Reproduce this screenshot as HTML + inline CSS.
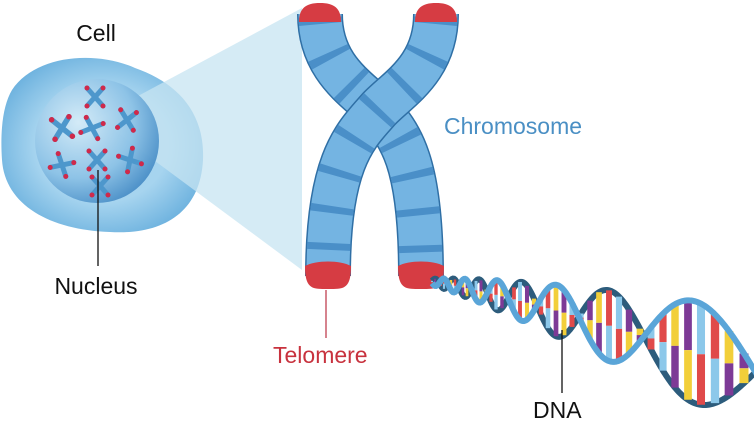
<!DOCTYPE html>
<html><head><meta charset="utf-8"><style>
html,body{margin:0;padding:0;background:#fff;overflow:hidden;}
svg{display:block;}
text{font-family:"Liberation Sans",sans-serif;}
</style></head><body>
<svg id="s" width="754" height="429" viewBox="0 0 754 429" xmlns="http://www.w3.org/2000/svg">
<defs>
<radialGradient id="cellg" cx="0.5" cy="0.5" r="0.55">
<stop offset="0.6" stop-color="#a6d4ef"/><stop offset="1" stop-color="#6fb3df"/></radialGradient>
<radialGradient id="nucg" cx="0.35" cy="0.35" r="0.75">
<stop offset="0" stop-color="#d6ecf8"/><stop offset="0.6" stop-color="#8cc2e6"/><stop offset="1" stop-color="#3f86c2"/></radialGradient>
<g id="mx">
<path d="M-9,-8 Q0,0 9,8 M9,-8 Q0,0 -9,8" stroke="#4d97cc" stroke-width="5" fill="none" stroke-linecap="round"/>
<circle cx="-9" cy="-8" r="2.5" fill="#d0294a"/><circle cx="9" cy="-8" r="2.5" fill="#d0294a"/>
<circle cx="-9" cy="8" r="2.5" fill="#d0294a"/><circle cx="9" cy="8" r="2.5" fill="#d0294a"/>
</g>
</defs>
<path d="M12,90 C35,55 95,50 135,68 C175,82 205,110 203,160 C200,215 160,235 110,232 C50,230 5,205 2,160 C0,130 3,105 12,90Z" fill="url(#cellg)"/>
<polygon points="97,118 302,8 302,270" fill="#c7e4f2" opacity="0.75"/>
<circle cx="97" cy="141" r="62" fill="url(#nucg)" opacity="0.95"/>
<use href="#mx" transform="translate(95,97) rotate(90)"/>
<use href="#mx" transform="translate(62,128) rotate(80) scale(1.1)"/>
<use href="#mx" transform="translate(92,128) rotate(20)"/>
<use href="#mx" transform="translate(127,120) rotate(100)"/>
<use href="#mx" transform="translate(62,165) rotate(30)"/>
<use href="#mx" transform="translate(97,160) rotate(90)"/>
<use href="#mx" transform="translate(130,160) rotate(60)"/>
<use href="#mx" transform="translate(100,186) rotate(90)"/>
<line x1="98" y1="170" x2="98" y2="266" stroke="#111" stroke-width="1.3"/>
<g fill="none" stroke-linecap="butt">
<path d="M320,14 C320,70 360,90 378,110 C400,135 421,160 421,276" stroke="#2f6fa5" stroke-width="46"/>
<path d="M320,14 C320,70 360,90 378,110 C400,135 421,160 421,276" stroke="#74b4e2" stroke-width="43"/>
<path d="M320,14 C320,70 360,90 378,110 C400,135 421,160 421,276" stroke="#4a8fc8" stroke-width="43" stroke-dasharray="7 30" stroke-dashoffset="-40"/>
<path d="M436,14 C436,70 396,90 378,110 C356,135 328,160 328,276" stroke="#2f6fa5" stroke-width="46"/>
<path d="M436,14 C436,70 396,90 378,110 C356,135 328,160 328,276" stroke="#74b4e2" stroke-width="43"/>
<path d="M436,14 C436,70 396,90 378,110 C356,135 328,160 328,276" stroke="#4a8fc8" stroke-width="43" stroke-dasharray="7 30" stroke-dashoffset="-40"/>
</g>
<path d="M299,22 C299,8 306,3 320,3 C334,3 341,8 341,22 Z" fill="#d63c43"/>
<path d="M415,22 C415,8 422,3 436,3 C450,3 457,8 457,22 Z" fill="#d63c43"/>
<path d="M305,266 C305,290 313,289 328,289 C343,289 351,290 351,266 C340,260 316,260 305,266Z" fill="#d63c43"/>
<path d="M398,266 C398,290 406,289 421,289 C436,289 444,290 444,266 C433,260 409,260 398,266Z" fill="#d63c43"/>
<line x1="326" y1="290" x2="326" y2="338" stroke="#c04050" stroke-width="1.3"/>
<g id="dna"></g>
<line x1="562" y1="330" x2="562" y2="393" stroke="#111" stroke-width="1.3"/>
<text x="96" y="41" font-size="23" text-anchor="middle" fill="#111">Cell</text>
<text x="96" y="294" font-size="23" text-anchor="middle" fill="#111">Nucleus</text>
<text x="444" y="134" font-size="23" fill="#4a8fc4">Chromosome</text>
<text x="273" y="363" font-size="23" fill="#c8323e">Telomere</text>
<text x="533" y="418" font-size="23" fill="#111">DNA</text>
</svg>
<script>
(function(){
var g=document.getElementById('dna');
var pts=[],phi=0,x0=432,x1=770;
for(var x=x0;x<=x1;x+=1){var t=(x-x0)/(x1-x0);
var lam=16+300*Math.pow(t,1.5);phi+=2*Math.PI/lam;
var cy=282+95*Math.pow(t,1.2);var A=3+62*t;
pts.push([x,cy,A,phi]);}
var cols=[['#e04a4a','#8cc8ea'],['#f2cf3a','#7d3a96'],['#7d3a96','#f2cf3a'],['#8cc8ea','#e04a4a']];
var s='';var k=0;
for(var i=0;i<pts.length;i+=Math.max(3,Math.round(3+i/25))){
var p=pts[i],ya=p[1]+p[2]*Math.sin(p[3]),yb=p[1]-p[2]*Math.sin(p[3]);var m=(ya+yb)/2;var c=cols[k++%4];var w=1.5+p[2]/8;
s+='<line x1="'+p[0]+'" y1="'+ya+'" x2="'+p[0]+'" y2="'+m+'" stroke="'+c[0]+'" stroke-width="'+w+'"/>';
s+='<line x1="'+p[0]+'" y1="'+m+'" x2="'+p[0]+'" y2="'+yb+'" stroke="'+c[1]+'" stroke-width="'+w+'"/>';}
var d1='',d2='';
pts.forEach(function(p,i){d1+=(i?'L':'M')+p[0]+','+(p[1]+p[2]*Math.sin(p[3]));d2+=(i?'L':'M')+p[0]+','+(p[1]-p[2]*Math.sin(p[3]));});
g.innerHTML='<path d="'+d2+'" stroke="#2d5c7c" stroke-width="6" fill="none"/>'+s+'<path d="'+d1+'" stroke="#5aa5d8" stroke-width="6" fill="none"/>';
})();
</script>
</body></html>
